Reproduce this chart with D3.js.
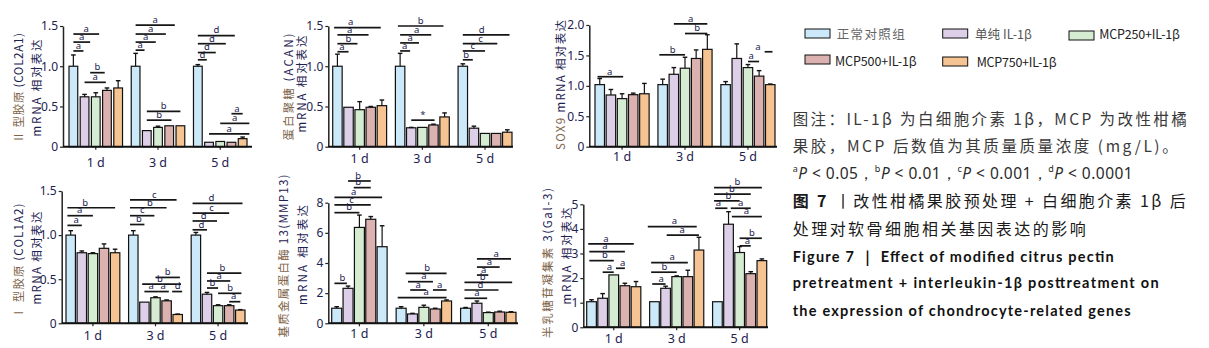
<!DOCTYPE html>
<html><head><meta charset="utf-8">
<script src="https://cdn.jsdelivr.net/npm/d3@7"></script>
<style>body{margin:0;background:#fff}svg{display:block}</style>
</head><body><svg id="c" width="1209" height="348"></svg>
<script>
// ---------- DATA ----------
const days = ["1 d", "3 d", "5 d"];
const groupNames = ["正常对照组", "单纯 IL-1β", "MCP250+IL-1β", "MCP500+IL-1β", "MCP750+IL-1β"];

// COL2A1
const col2a1Mean  = [[1.0,0.62,0.62,0.70,0.73],[1.0,0.20,0.24,0.26,0.26],[1.0,0.055,0.065,0.055,0.10]];
const col2a1Upper = [[1.14,0.65,0.67,0.73,0.82],[1.16,0.20,0.255,0.26,0.26],[1.02,0.055,0.065,0.055,0.12]];
const col2a1TickValues = [0,0.5,1,1.5];
const col2a1TickLabels = ["0","0.5","1.0","1.5"];
const col2a1Sig = [
 [0,0,2.3,1.40,"a"],[0,0,1.5,1.30,"a"],[0,0,0.9,1.19,"a"],[0,1.5,2.8,0.92,"b"],[0,1,2.9,0.80,"a"],
 [1,0,3.5,1.51,"a"],[1,0,2.7,1.40,"a"],[1,0,1.8,1.30,"a"],[1,0,0.8,1.20,"a"],[1,1,4,0.44,"b"],[1,1,3.2,0.33,"b"],
 [2,0,3.3,1.38,"d"],[2,0,2.5,1.28,"d"],[2,0,1.6,1.17,"d"],[2,0,0.8,1.08,"d"],[2,3,4,0.41,"a"],[2,2,4.6,0.29,"a"],[2,1,4.6,0.16,"a"]
];

// ACAN
const acanMean  = [[1.0,0.49,0.46,0.49,0.51],[1.0,0.235,0.24,0.27,0.37],[1.0,0.23,0.165,0.165,0.18]];
const acanUpper = [[1.15,0.49,0.56,0.50,0.58],[1.16,0.24,0.24,0.28,0.42],[1.03,0.255,0.165,0.165,0.21]];
const acanTickValues = [0,0.5,1,1.5];
const acanTickLabels = ["0","0.5","1.0","1.5"];
const acanSig = [
 [0,-0.3,3.9,1.48,"a",1.2],[0,0,2.8,1.39,"a",1.1],[0,0,1.8,1.28,"b",1.0],[0,0,1,1.18,"a",0.4],
 [1,-0.2,3.9,1.50,"b"],[1,0,2.8,1.39,"a",1.5],[1,0,1.7,1.29,"a",0.9],[1,0,0.9,1.19,"a",0.4],[1,1,3.1,0.33,"*"],
 [2,0,4.2,1.39,"d",1.7],[2,0,3.1,1.28,"c",1.6],[2,0,2,1.19,"c",0.9],[2,0,0.9,1.08,"b",0.3]
];

// SOX9
const sox9Mean  = [[1.02,0.85,0.79,0.855,0.87],[1.02,1.19,1.29,1.45,1.60],[1.02,1.45,1.30,1.16,1.02]];
const sox9Upper = [[1.12,0.94,0.87,0.88,1.04],[1.11,1.30,1.47,1.59,1.84],[1.07,1.69,1.35,1.25,1.03]];
const sox9TickValues = [0,0.5,1,1.5,2];
const sox9TickLabels = ["0","0.5","1.0","1.5","2.0"];
const sox9Sig = [
 [0,-0.2,2.1,1.15,"a",0.9],
 [1,1,4,2.02,"a",2.5],[1,2,4,1.86,"b",3.1],[1,-0.3,2,1.51,"b",0.9],
 [2,2,3,1.40,"a",2.3],[2,3.5,4.2,1.56,"a",2.9]
];

// COL1A2
const col1a2Mean  = [[1.0,0.80,0.79,0.85,0.80],[1.0,0.24,0.29,0.255,0.10],[1.0,0.33,0.20,0.20,0.15]];
const col1a2Upper = [[1.05,0.82,0.80,0.90,0.84],[1.05,0.24,0.30,0.265,0.105],[1.03,0.35,0.21,0.21,0.155]];
const col1a2TickValues = [0,0.5,1,1.5];
const col1a2TickLabels = ["0","0.5","1.0","1.5"];
const col1a2Sig = [
 [0,-0.3,4,1.31,"b",1.3],[0,-0.3,2,1.22,"a",0.8],[0,-0.3,1,1.11,"a",0.5],
 [1,-0.3,3.9,1.40,"c",1.9],[1,-0.3,3,1.31,"b",1.5],[1,-0.3,1.9,1.22,"c",0.8],[1,-0.3,1,1.12,"b",0.5],
 [1,2,4.2,0.52,"b",3.1],[1,0.8,4.3,0.445,"b",2.4],[1,1,2.3,0.36,"a",1.6],[1,2.3,3.2,0.36,"a",2.7],[1,3.5,4.4,0.36,"d",4.0],
 [2,-0.3,4.2,1.36,"d",1.4],[2,-0.3,3,1.25,"c",1.4],[2,-0.3,1.9,1.16,"d",0.7],[2,-0.3,1,1.06,"d",0.5],
 [2,1,4.1,0.57,"b",2.4],[2,1,3.1,0.48,"a",2.1],[2,1,2,0.40,"b",1.5],[2,2,4.1,0.34,"b",3.1],[2,3,4,0.245,"a",3.4]
];

// MMP13
const mmp13Mean  = [[1.0,2.32,6.36,6.9,5.08],[1.0,0.62,1.06,0.95,1.48],[1.0,1.33,0.71,0.75,0.73]];
const mmp13Upper = [[1.1,2.47,7.18,7.08,6.47],[1.1,0.66,1.2,1.0,1.55],[1.05,1.48,0.74,0.8,0.77]];
const mmp13TickValues = [0,2,4,6,8];
const mmp13TickLabels = ["0","2","4","6","8"];
const mmp13Sig = [
 [0,1,3,9.44,"b",1.9],[0,1.5,3,9.0,"b",1.9],[0,-0.2,4,8.35,"a",1.5],[0,-0.2,3,7.85,"c",1.3],[0,-0.2,2,7.34,"b",1.1],[0,-0.2,0.9,2.65,"b",0.5],
 [1,0.4,4,3.31,"b",2.3],[1,0.6,2.8,2.76,"a",2.0],[1,0.8,2.2,2.21,"a",1.5],[1,2.8,4,2.21,"a",3.4],[1,-0.3,4,1.70,"a",2.2],
 [2,1,4,4.27,"a",2.7],[2,1,3,3.73,"a",2.1],[2,1,2,3.2,"a",1.6],[2,-0.1,4.1,2.72,"b",1.5],[2,-0.1,2.9,2.21,"d",1.3],[2,-0.1,1.9,1.66,"a",1.0]
];

// Gal-3
const gal3Mean  = [[1.04,1.18,2.13,1.69,1.65],[1.04,1.585,2.06,2.06,3.14],[1.04,4.19,3.04,2.18,2.71]];
const gal3Upper = [[1.12,1.37,2.13,1.79,1.86],[1.04,1.67,2.09,2.32,3.66],[1.04,4.70,3.28,2.26,2.78]];
const gal3TickValues = [0,1,2,3,4,5];
const gal3TickLabels = ["0","1","2","3","4","5"];
const gal3Sig = [
 [0,-0.3,3.8,3.39,"a",1.3],[0,-0.2,3,3.08,"a",1.2],[0,-0.2,2,2.71,"b",1.2],[0,1,2,2.24,"a",1.6],[0,2.2,3,2.40,"a",2.8],
 [1,-0.6,3.8,4.09,"a",1.8],[1,1.1,4,3.75,"a",2.5],[1,-0.3,3,2.63,"a",1.6],[1,-0.3,2,2.24,"b",0.9],[1,-0.2,1,1.76,"a",0.6],
 [2,-0.3,4,5.68,"b",1.8],[2,-0.3,3,5.41,"b",1.3],[2,-0.3,2,5.14,"b",1.0],[2,-0.2,0.9,4.84,"a",0.1],[2,1.2,3,4.84,"a",2.1],[2,1.3,4,4.50,"a",2.6],
 [2,2,4,3.62,"b",3.1],[2,2,3,3.31,"a",2.7]
];

// caption text
const captionCn = [
 "图注：IL-1β 为白细胞介素 1β，MCP 为改性柑橘",
 "果胶，MCP 后数值为其质量质量浓度 (mg/L)。"
];
const pLetters = ["a","b","c","d"];
const pValues = ["0.05","0.01","0.001","0.0001"];
const titleCn = ["图 7", " 丨改性柑橘果胶预处理 + 白细胞介素 1β 后", "处理对软骨细胞相关基因表达的影响"];
const titleEn = ["Figure 7 ｜ Effect of modified citrus pectin", "pretreatment + interleukin-1β posttreatment on", "the expression of chondrocyte-related genes"];

// ---------- STYLE / LAYOUT ----------
const colors = ["#cce9f9","#dccfe7","#d5ecd3","#dbb2af","#f5c492"];
const NAVY = "#1c2250", BROWN = "#7d6449", INK = "#111";
const LAT = "'Noto Sans','Liberation Sans',sans-serif";
const CJK = "'Noto Sans CJK SC','Noto Sans',sans-serif";

const panels = [
 {mean:col2a1Mean, upper:col2a1Upper, sig:col2a1Sig, tv:col2a1TickValues, tl:col2a1TickLabels, domain:[0,1.5],
  axisX:63, xr:[69,247], axisEnd:252, yr:[146.7,26], pad:8, inner:0.22,
  ylab:[{x:17.5,cy:88,len:110,parts:[["Ⅱ 型胶原 ",BROWN],["(COL2A1)",NAVY]]},{x:36,cy:88,len:97,parts:[["mRNA 相对表达",NAVY]]}]},
 {mean:acanMean, upper:acanUpper, sig:acanSig, tv:acanTickValues, tl:acanTickLabels, domain:[0,1.5],
  axisX:328.3, xr:[332.7,512], axisEnd:513, yr:[146.7,26], pad:4.3, inner:0.15,
  ylab:[{x:287.5,cy:87,len:107,parts:[["蛋白聚糖 ",BROWN],["(ACAN)",NAVY]]},{x:301,cy:84,len:97,parts:[["mRNA 相对表达",NAVY]]}]},
 {mean:sox9Mean, upper:sox9Upper, sig:sox9Sig, tv:sox9TickValues, tl:sox9TickLabels, domain:[0,2],
  axisX:589.3, xr:[595,775], axisEnd:777, yr:[146.7,25], pad:2.5, inner:0.15,
  ylab:[{x:560,cy:85,len:130,parts:[["SOX9 ",BROWN],["mRNA 相对表达",NAVY]]}]},
 {mean:col1a2Mean, upper:col1a2Upper, sig:col1a2Sig, tv:col1a2TickValues, tl:col1a2TickLabels, domain:[0,1.5],
  axisX:61.7, xr:[66,245], axisEnd:248, yr:[323.3,191], pad:4.4, inner:0.15,
  ylab:[{x:17.5,cy:261,len:115,parts:[["Ⅰ 型胶原 ",BROWN],["(COL1A2)",NAVY]]},{x:36,cy:258,len:93,parts:[["mRNA 相对表达",NAVY]]}]},
 {mean:mmp13Mean, upper:mmp13Upper, sig:mmp13Sig, tv:mmp13TickValues, tl:mmp13TickLabels, domain:[0,8],
  axisX:328.3, xr:[331.7,516], axisEnd:518, yr:[323.3,202.7], pad:2.7, inner:0.12, recolor:{"0-4":0},
  ylab:[{x:283,cy:256,len:163,parts:[["基质金属蛋白酶 ",BROWN],["13(MMP13)",NAVY]]},{x:302,cy:255,len:100,parts:[["mRNA 相对表达",NAVY]]}]},
 {mean:gal3Mean, upper:gal3Upper, sig:gal3Sig, tv:gal3TickValues, tl:gal3TickLabels, domain:[0,5],
  axisX:583.3, xr:[586.7,766.7], axisEnd:768, yr:[327.3,204.3], pad:3.4, inner:0.13,
  ylab:[{x:546.7,cy:263,len:150,parts:[["半乳糖苷凝集素 ",BROWN],["3(Gal-3)",NAVY]]},{x:566,cy:256,len:97,parts:[["mRNA 相对表达",NAVY]]}]}
];

const svg = d3.select("#c");

panels.forEach(p => {
  const g = svg.append("g");
  const y = d3.scaleLinear().domain(p.domain).range(p.yr);
  const xg = d3.scaleBand().domain(days).range(p.xr).paddingInner(0.14).paddingOuter(0);
  const xb = d3.scaleBand().domain(d3.range(5)).range([0, xg.bandwidth()]).paddingInner(p.inner).paddingOuter(0);
  const bx = (gi, idx) => xg(days[gi]) + idx * xb.step() + xb.bandwidth() / 2;

  const flat = [];
  p.mean.forEach((vals, gi) => vals.forEach((v, bi) => flat.push({gi, bi, v, u: p.upper[gi][bi]})));

  // bars
  g.selectAll("rect.bar").data(flat).join("rect")
    .attr("x", d => xg(days[d.gi]) + xb(d.bi))
    .attr("y", d => y(d.v))
    .attr("width", xb.bandwidth())
    .attr("height", d => y(0) - y(d.v))
    .attr("fill", d => {
      const k = d.gi + "-" + d.bi;
      return colors[(p.recolor && p.recolor[k] !== undefined) ? p.recolor[k] : d.bi];
    })
    .attr("stroke", INK).attr("stroke-width", 1.2);

  // error bars
  const eb = flat.filter(d => d.u > d.v + 0.001);
  g.selectAll("line.ev").data(eb).join("line")
    .attr("x1", d => bx(d.gi, d.bi)).attr("x2", d => bx(d.gi, d.bi))
    .attr("y1", d => y(d.v)).attr("y2", d => y(d.u))
    .attr("stroke", INK).attr("stroke-width", 1.2);
  g.selectAll("line.ec").data(eb).join("line")
    .attr("x1", d => bx(d.gi, d.bi) - 2.3).attr("x2", d => bx(d.gi, d.bi) + 2.3)
    .attr("y1", d => y(d.u)).attr("y2", d => y(d.u))
    .attr("stroke", INK).attr("stroke-width", 1.4);

  // y axis
  const ya = g.append("g").attr("transform", `translate(${p.axisX},0)`)
    .call(d3.axisLeft(y).tickValues(p.tv).tickFormat((d, i) => p.tl[i]).tickSize(3).tickSizeOuter(0).tickPadding(2));
  ya.select(".domain").attr("stroke", "#222").attr("stroke-width", 1.5);
  ya.selectAll(".tick line").attr("stroke", "#222").attr("stroke-width", 1.2);
  ya.selectAll("text").attr("font-family", LAT).attr("font-size", 12).attr("fill", NAVY);

  // x axis
  const xa = g.append("g").attr("transform", `translate(0,${y(0)})`)
    .call(d3.axisBottom(xg).tickSize(3).tickSizeOuter(0).tickPadding(p.pad));
  xa.select(".domain").remove();
  xa.append("line").attr("x1", p.axisX).attr("x2", p.axisEnd).attr("stroke", "#111").attr("stroke-width", 2);
  xa.selectAll(".tick line").attr("stroke", "#222").attr("stroke-width", 1.2);
  xa.selectAll("text").attr("font-family", LAT).attr("font-size", 12.5).attr("fill", NAVY);

  // significance brackets
  const sg = g.append("g");
  sg.selectAll("line").data(p.sig).join("line")
    .attr("x1", d => bx(d[0], d[1])).attr("x2", d => bx(d[0], d[2]))
    .attr("y1", d => y(d[3])).attr("y2", d => y(d[3]))
    .attr("stroke", "#151515").attr("stroke-width", 1.7);
  sg.selectAll("text").data(p.sig).join("text")
    .attr("x", d => bx(d[0], d[5] !== undefined ? d[5] : (d[1] + d[2]) / 2))
    .attr("y", d => y(d[3]) - 2.2)
    .attr("text-anchor", "middle")
    .attr("font-family", LAT).attr("font-size", 9.5).attr("fill", NAVY)
    .text(d => d[4]);

  // y labels
  p.ylab.forEach(l => {
    const t = svg.append("text")
      .attr("transform", `translate(${l.x},${l.cy}) rotate(-90)`)
      .attr("text-anchor", "middle").attr("dominant-baseline", "central")
      .attr("font-family", CJK).attr("font-size", 11.5)
      .attr("textLength", l.len).attr("lengthAdjust", "spacing");
    l.parts.forEach(pt => t.append("tspan").attr("fill", pt[1]).text(pt[0]));
  });
});

// ---------- LEGEND ----------
const legendPos = [
 {sx:805, sy:29, tx:836.7, ty:33.5, len:68, col:"#666"},
 {sx:942.7, sy:29, tx:975, ty:33.5, len:57, col:"#555"},
 {sx:1069, sy:31, tx:1099.3, ty:33.5, len:80.7, col:"#222"},
 {sx:805, sy:55, tx:835, ty:60, len:81.7, col:"#222"},
 {sx:942.7, sy:57, tx:976.7, ty:61.7, len:80, col:"#222"}
];
const lg = svg.append("g");
lg.selectAll("rect").data(groupNames).join("rect")
  .attr("x", (d, i) => legendPos[i].sx).attr("y", (d, i) => legendPos[i].sy)
  .attr("width", 25).attr("height", 9)
  .attr("fill", (d, i) => colors[i]).attr("stroke", "#111").attr("stroke-width", 1);
lg.selectAll("text").data(groupNames).join("text")
  .attr("x", (d, i) => legendPos[i].tx).attr("y", (d, i) => legendPos[i].ty)
  .attr("dominant-baseline", "central")
  .attr("font-family", CJK).attr("font-size", 12.5)
  .attr("fill", (d, i) => legendPos[i].col)
  .attr("textLength", (d, i) => legendPos[i].len).attr("lengthAdjust", "spacing")
  .text(d => d);

// ---------- CAPTION ----------
const CX = 792.7;
const cap = svg.append("g");
const capLayout = [{y:125, len:394}, {y:152, len:385}];
captionCn.forEach((s, i) => {
  cap.append("text").attr("x", CX).attr("y", capLayout[i].y)
    .attr("font-family", CJK).attr("font-size", 15.5).attr("fill", "#3a3a3a")
    .attr("textLength", capLayout[i].len).attr("lengthAdjust", "spacing").text(s);
});
const pl = cap.append("text").attr("x", CX).attr("y", 178.5)
  .attr("font-family", LAT).attr("font-size", 15.5).attr("fill", "#2a2a2a")
  .attr("textLength", 340).attr("lengthAdjust", "spacing");
pLetters.forEach((L, i) => {
  pl.append("tspan").attr("font-size", 9).attr("dy", -6.5).text(L);
  pl.append("tspan").attr("font-style", "italic").attr("dy", 6.5).text("P");
  pl.append("tspan").text(" < " + pValues[i] + (i < 3 ? "，" : ""));
});
const t4 = cap.append("text").attr("x", CX).attr("y", 207)
  .attr("font-family", CJK).attr("font-size", 16).attr("fill", "#1a1a1a")
  .attr("textLength", 393).attr("lengthAdjust", "spacing");
t4.append("tspan").attr("font-weight", "bold").text(titleCn[0]);
t4.append("tspan").text(titleCn[1]);
cap.append("text").attr("x", CX).attr("y", 235)
  .attr("font-family", CJK).attr("font-size", 16).attr("fill", "#1a1a1a")
  .attr("textLength", 293).attr("lengthAdjust", "spacing").text(titleCn[2]);
const enLayout = [{y:261.7, len:321}, {y:288.3, len:366}, {y:316, len:338}];
titleEn.forEach((s, i) => {
  cap.append("text").attr("x", CX).attr("y", enLayout[i].y)
    .attr("font-family", "Lato,'Open Sans',sans-serif").attr("font-weight", "bold").attr("font-size", 14.5)
    .attr("fill", "#111")
    .attr("textLength", enLayout[i].len).attr("lengthAdjust", "spacing").text(s);
});
</script></body></html>
